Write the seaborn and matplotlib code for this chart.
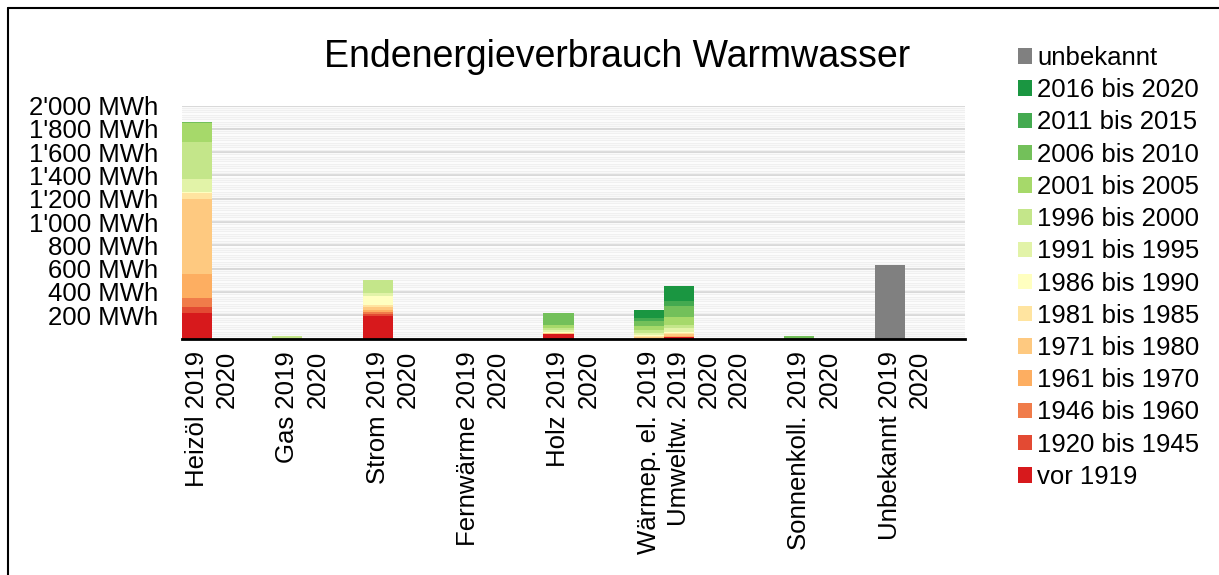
import numpy as np
import pandas as pd
import matplotlib.pyplot as plt
import seaborn as sns
from matplotlib.patches import Patch
from matplotlib.lines import Line2D
from matplotlib.ticker import MultipleLocator, FuncFormatter

# Bauperioden, von unten nach oben gestapelt
periods = ["vor 1919", "1920 bis 1945", "1946 bis 1960", "1961 bis 1970",
           "1971 bis 1980", "1981 bis 1985", "1986 bis 1990", "1991 bis 1995",
           "1996 bis 2000", "2001 bis 2005", "2006 bis 2010", "2011 bis 2015",
           "2016 bis 2020", "unbekannt"]
colors = ["#d7191c", "#e34a33", "#f07c4a", "#fdae61",
          "#fec980", "#ffe4a0", "#ffffc0", "#e2f3a8",
          "#c4e68a", "#a6d96a", "#73c05a", "#44aa50",
          "#1a9641", "#808080"]

labels = ["Heizöl 2019", "2020", "Gas 2019", "2020", "Strom 2019", "2020",
          "Fernwärme 2019", "2020", "Holz 2019", "2020",
          "Wärmep. el. 2019", "Umweltw. 2019", "2020", "2020",
          "Sonnenkoll. 2019", "2020", "Unbekannt 2019", "2020"]
slots = [0, 1, 3, 4, 6, 7, 9, 10, 12, 13, 15, 16, 17, 18, 20, 21, 23, 24]

# MWh je Bauperiode (Reihenfolge wie periods)
heizoel_2019 = [220, 51, 77, 203, 644, 51, 14, 106, 320, 166, 8, 0, 0, 0]
gas_2019 = [0, 0, 0, 0, 0, 0, 0, 0, 20, 0, 0, 0, 0, 0]
strom_2019 = [194, 17, 17, 20, 22, 20, 74, 29, 106, 0, 0, 0, 0, 0]
holz_2019 = [37, 0, 0, 0, 9, 0, 11, 14, 20, 23, 109, 0, 0, 0]
waermep_2019 = [0, 0, 0, 0, 9, 9, 9, 23, 26, 31, 43, 29, 69, 0]
umweltw_2019 = [11, 0, 0, 9, 17, 11, 9, 29, 34, 66, 91, 43, 131, 0]
sonnenkoll_2019 = [0, 0, 0, 0, 0, 0, 0, 0, 0, 0, 22, 0, 0, 0]
unbekannt_2019 = [0, 0, 0, 0, 0, 0, 0, 0, 0, 0, 0, 0, 0, 629]

bar_values = {0: heizoel_2019, 3: gas_2019, 6: strom_2019, 12: holz_2019,
              15: waermep_2019, 16: umweltw_2019, 20: sonnenkoll_2019,
              23: unbekannt_2019}

rows = []
for slot in slots:
    vals = bar_values.get(slot, [0] * len(periods))
    for p, v in zip(periods, vals):
        rows.append({"slot": slot, "period": p, "mwh": v})
df = pd.DataFrame(rows)

sns.set_theme(style="white")
plt.rcParams["font.family"] = ["Liberation Sans", "DejaVu Sans"]
plt.rcParams["text.color"] = "black"
plt.rcParams["xtick.color"] = "black"
plt.rcParams["ytick.color"] = "black"

fig = plt.figure(figsize=(12.19, 5.75), dpi=100)
ax = fig.add_axes([182 / 1219, 1 - 338.5 / 575, (965 - 182) / 1219, 233 / 575])

bottom = np.zeros(len(slots))
for period, color in zip(periods, colors):
    sub = df[df["period"] == period].sort_values("slot")
    sns.barplot(data=sub, x="slot", y="mwh", native_scale=True, orient="x",
                color=color, width=1, bottom=bottom, errorbar=None,
                linewidth=0, saturation=1, ax=ax)
    bottom += sub["mwh"].to_numpy()

ax.set_xlim(-0.5, 25.5)
ax.set_ylim(0, 2000)
ax.set_xlabel("")
ax.set_ylabel("")

ax.set_xticks(slots)
ax.set_xticklabels(labels, rotation=90, fontsize=18.5)
ax.set_yticks(range(200, 2001, 200))
ax.yaxis.set_major_formatter(FuncFormatter(lambda v, _: f"{v:,.0f}".replace(",", "'") + " MWh"))
ax.yaxis.set_minor_locator(MultipleLocator(20))
ax.tick_params(axis="y", which="both", length=0, pad=17, labelsize=18.5)
ax.tick_params(axis="x", length=0, pad=9)

ax.grid(which="major", axis="y", color="#d9d9d9", linewidth=1.5)
ax.grid(which="minor", axis="y", color="#f0f0f0", linewidth=1)
ax.set_axisbelow(True)

for s in ["left", "right", "top"]:
    ax.spines[s].set_visible(False)
ax.spines["bottom"].set_color("black")
ax.spines["bottom"].set_linewidth(2)

fig.text(617 / 1219, 1 - 67 / 575, "Endenergieverbrauch Warmwasser",
         ha="center", va="baseline", fontsize=27)

handles = [Patch(facecolor=c, edgecolor="none", label=p)
           for p, c in zip(periods, colors)][::-1]
fig.legend(handles=handles, loc="upper left",
           bbox_to_anchor=(1018 / 1219, 1 - 46 / 575), frameon=False,
           fontsize=18.5, handlelength=0.55, handleheight=0.55,
           handletextpad=0.2, labelspacing=0.32, borderpad=0, borderaxespad=0)

# Rahmen
fig.add_artist(Line2D([8 / 1219, 8 / 1219], [0, 1 - 8 / 575], color="black",
                      linewidth=1.5, transform=fig.transFigure))
fig.add_artist(Line2D([8 / 1219, 1], [1 - 8 / 575, 1 - 8 / 575], color="black",
                      linewidth=1.5, transform=fig.transFigure))

fig.savefig("out.png", dpi=100)
